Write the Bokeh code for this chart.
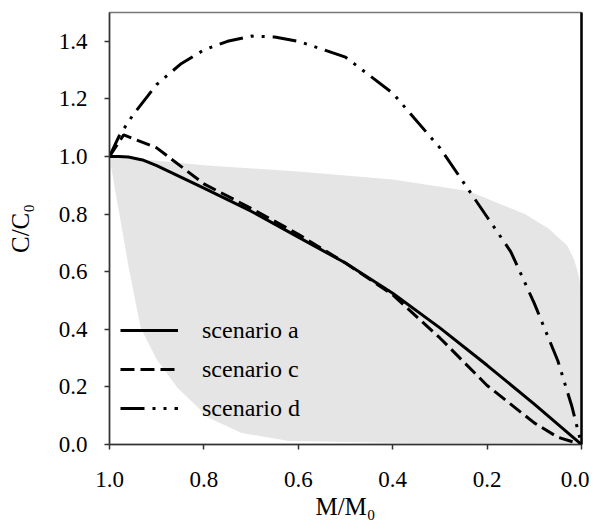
from bokeh.plotting import figure
from bokeh.models import (Range1d, FixedTicker, Legend, LegendItem, CustomJSTickFormatter,
                          LinearAxis)
from bokeh.embed import file_html
from bokeh.resources import INLINE

# ---- data ----
a_x = [1.0, 0.98, 0.96, 0.93, 0.9, 0.87, 0.8, 0.7, 0.6, 0.5, 0.4, 0.3, 0.2, 0.1, 0.0]
a_y = [1.0, 1.0, 0.998, 0.988, 0.968, 0.945, 0.89, 0.81, 0.72, 0.63, 0.525, 0.405, 0.275, 0.14, 0.0]

c_x = [1.0, 0.97, 0.9, 0.8, 0.7, 0.6, 0.5, 0.4, 0.3, 0.2, 0.1, 0.05, 0.0]
c_y = [1.0, 1.075, 1.03, 0.905, 0.82, 0.73, 0.63, 0.52, 0.37, 0.205, 0.075, 0.025, 0.0]

d_x = [1.0, 0.98, 0.95, 0.9, 0.85, 0.8, 0.75, 0.7, 0.65, 0.6, 0.5, 0.4, 0.3, 0.2, 0.15, 0.1, 0.05, 0.02, 0.0]
d_y = [1.0, 1.07, 1.145, 1.25, 1.32, 1.37, 1.40, 1.418, 1.415, 1.40, 1.345, 1.22, 1.03, 0.79, 0.67, 0.49, 0.29, 0.13, 0.0]

band_upper_x = [1.0, 0.9, 0.8, 0.6, 0.4, 0.24, 0.12, 0.07, 0.03, 0.015, 0.005, 0.0]
band_upper_y = [1.0, 0.985, 0.97, 0.948, 0.92, 0.88, 0.80, 0.75, 0.69, 0.64, 0.58, 0.5]
band_lower_x = [1.0, 0.99, 0.98, 0.96, 0.934, 0.9, 0.856, 0.79, 0.72, 0.62, 0.4, 0.0]
band_lower_y = [1.0, 0.9, 0.81, 0.62, 0.405, 0.295, 0.197, 0.093, 0.04, 0.012, 0.006, 0.004]

x_ticks = [0.0, 0.2, 0.4, 0.6, 0.8, 1.0]
y_ticks = [0.0, 0.2, 0.4, 0.6, 0.8, 1.0, 1.2, 1.4]
labels = ["scenario a", "scenario c", "scenario d"]
x_title, y_title = "M/M\u2080", "C/C\u2080"

FONT = "Liberation Serif"

p = figure(width=589, height=530, output_backend="svg", toolbar_location=None,
           x_range=Range1d(1.0, 0.0), y_range=Range1d(0.0, 1.5),
           min_border_left=109, min_border_right=8, min_border_top=12, min_border_bottom=86)
p.grid.visible = False
p.background_fill_color = "white"
p.outline_line_color = "#777777"
p.outline_line_width = 1.5

band_x = band_upper_x + band_lower_x[::-1]
band_y = band_upper_y + band_lower_y[::-1]
p.patch(band_x, band_y, fill_color="#e5e5e5", line_color=None)

ra = p.line(a_x, a_y, line_color="black", line_width=3)
rc = p.line(c_x, c_y, line_color="black", line_width=3, line_dash="14 6")
rd = p.line(d_x, d_y, line_color="black", line_width=3, line_dash="24 8 3 8 3 8")

fmt = CustomJSTickFormatter(code="return tick.toFixed(1);")
for ax, ticks in ((p.xaxis[0], x_ticks), (p.yaxis[0], y_ticks)):
    ax.ticker = FixedTicker(ticks=ticks)
    ax.formatter = fmt
    ax.minor_tick_line_color = None
    ax.major_tick_in = 0
    ax.major_tick_out = 5
    ax.axis_line_color = "#333333"
    ax.axis_line_width = 1.5
    ax.major_tick_line_color = "#333333"
    ax.major_tick_line_width = 1.5
    ax.major_label_text_font = FONT
    ax.major_label_text_font_size = "23px"
    ax.major_label_text_color = "black"
    ax.axis_label_text_font = FONT
    ax.axis_label_text_font_size = "25px"
    ax.axis_label_text_font_style = "normal"
    ax.axis_label_text_color = "black"
p.xaxis[0].axis_label = x_title
p.yaxis[0].axis_label = y_title
p.xaxis[0].major_label_standoff = 22
p.yaxis[0].major_label_standoff = 17
p.xaxis[0].axis_label_standoff = 3
p.yaxis[0].axis_label_standoff = 22

# right frame side drawn as a plain black axis line
right = LinearAxis(ticker=FixedTicker(ticks=[]), major_label_text_font_size="0px",
                   axis_line_color="black", axis_line_width=2.5,
                   major_tick_line_color=None, minor_tick_line_color=None)
p.add_layout(right, "right")

legend = Legend(items=[LegendItem(label=labels[0], renderers=[ra]),
                       LegendItem(label=labels[1], renderers=[rc]),
                       LegendItem(label=labels[2], renderers=[rd])],
                location=(11, 21), padding=0, margin=0, spacing=9,
                glyph_width=58, glyph_height=30, label_height=30, label_standoff=24,
                background_fill_alpha=0, border_line_alpha=0,
                label_text_font=FONT, label_text_font_size="24px", label_text_color="black")
p.add_layout(legend)

open("out.html", "w").write(file_html(p, INLINE))
